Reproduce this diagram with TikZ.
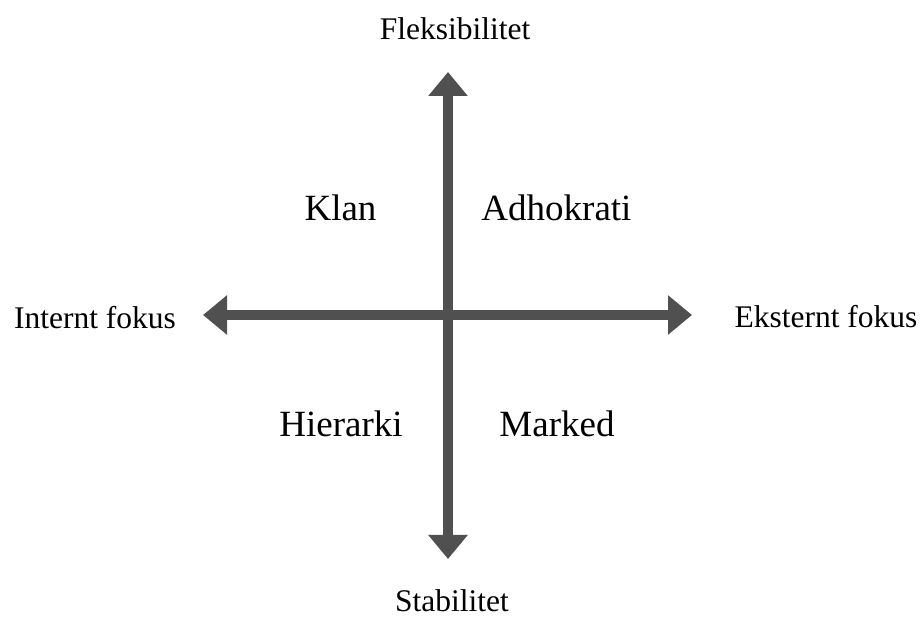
\documentclass[tikz,border=0pt]{standalone}
\usepackage{fontspec}
\setmainfont{Liberation Serif}
\usetikzlibrary{arrows.meta}
\definecolor{axisgray}{RGB}{80,80,80}
\begin{document}
\begin{tikzpicture}[x=1pt,y=1pt,
  axisline/.style={draw=axisgray, line width=10pt, {Triangle[width=38pt,length=24pt]}-{Triangle[width=38pt,length=24pt]}},
  small/.style={anchor=base, inner sep=0pt, font=\fontsize{31.5}{36}\selectfont},
  big/.style={anchor=base, inner sep=0pt, font=\fontsize{37}{42}\selectfont}]
\useasboundingbox (0,0) rectangle (922,621);
\coordinate (top) at (448,549);
\coordinate (bottom) at (448,62);
\coordinate (left) at (203,306);
\coordinate (right) at (692,306);
\draw[axisline] (bottom) -- (top);
\draw[axisline] (left) -- (right);
\node[small] (flex) at (455,581) {Fleksibilitet};
\node[small] (stab) at (452,9) {Stabilitet};
\node[small] (intern) at (95,292) {Internt fokus};
\node[small] (ekstern) at (826,293) {Eksternt fokus};
\node[big] (klan) at (340.5,400) {Klan};
\node[big] (adho) at (556.5,400) {Adhokrati};
\node[big] (hier) at (341,184) {Hierarki};
\node[big] (mark) at (557,184) {Marked};
\end{tikzpicture}
\end{document}
